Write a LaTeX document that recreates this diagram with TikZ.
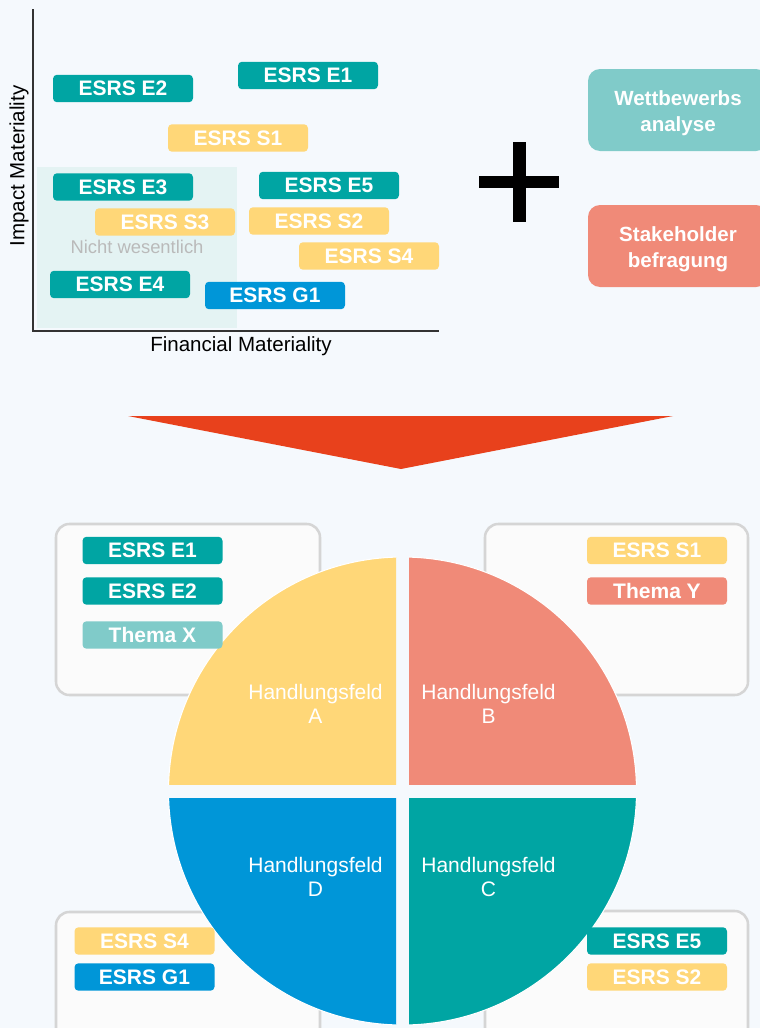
\documentclass[tikz,border=0pt]{standalone}
\usepackage{fontspec}
\setmainfont{Liberation Sans}
\usepackage{tikz}
\usetikzlibrary{calc}
\usepackage{xcolor}
\definecolor{bgblue}{HTML}{F5F9FD}
\definecolor{esrsteal}{HTML}{00A5A3}
\definecolor{esrsyellow}{HTML}{FFD778}
\definecolor{esrsblue}{HTML}{0096D8}
\definecolor{salmon}{HTML}{F08A78}
\definecolor{lightteal}{HTML}{80CBC9}
\definecolor{zonefill}{HTML}{E4F3F3}
\definecolor{panelgray}{HTML}{D5D5D5}
\definecolor{panelfill}{HTML}{FBFBFB}
\definecolor{arrowred}{HTML}{E8411C}

\begin{document}
\begin{tikzpicture}[x=0.75pt, y=-0.75pt,
    tag/.style={rounded corners=3pt, inner sep=0pt, minimum width=105pt,
      minimum height=20.6pt, text=white,
      font=\fontsize{15.75}{18}\selectfont\bfseries},
    bigtag/.style={rounded corners=9pt, inner sep=0pt, minimum width=135pt,
      minimum height=61.5pt, text=white, align=center,
      font=\fontsize{15.4}{19.5}\selectfont\bfseries},
    panel/.style={draw=panelgray, line width=1.9pt, fill=panelfill, rounded corners=10pt},
    field/.style={text=white, align=center, font=\fontsize{15.75}{18}\selectfont},
    axislabel/.style={font=\fontsize{15.4}{18}\selectfont}]
        % Define the page and the background
        \useasboundingbox (0,0) rectangle (760,1028);
        \fill[bgblue] (0,0) rectangle (760,1028);

        % Matrix: shaded zone and axes
        \coordinate (O) at (33,331);
        \coordinate (ytop) at (33,9);
        \coordinate (xend) at (439,331);
        \fill[zonefill] (37,167) rectangle (237,328);
        \node[text=black!27, font=\fontsize{13.8}{16}\selectfont] (nw) at (137,247) {Nicht wesentlich};
        \draw[line width=1.5pt, black!80] (ytop) -- (O) -- (xend);
        \node[axislabel, rotate=90] (ylab) at (19,166) {Impact Materiality};
        \node[axislabel] (xlab) at (241,346) {Financial Materiality};

        % Topics in the matrix
        \node[tag, fill=esrsteal] (mE2) at (123,88.5) {ESRS E2};
        \node[tag, fill=esrsteal] (mE1) at (308,75.5) {ESRS E1};
        \node[tag, fill=esrsyellow] (mS1) at (238,138) {ESRS S1};
        \node[tag, fill=esrsteal] (mE3) at (123,187) {ESRS E3};
        \node[tag, fill=esrsyellow] (mS3) at (165,222) {ESRS S3};
        \node[tag, fill=esrsteal] (mE5) at (329,185.5) {ESRS E5};
        \node[tag, fill=esrsyellow] (mS2) at (319,221) {ESRS S2};
        \node[tag, fill=esrsyellow] (mS4) at (369,256) {ESRS S4};
        \node[tag, fill=esrsteal] (mE4) at (120,284.5) {ESRS E4};
        \node[tag, fill=esrsblue] (mG1) at (275,295.5) {ESRS G1};

        % Plus and the extra inputs
        \fill[black] (513,142) rectangle (526,222);
        \fill[black] (479,176) rectangle (559,188);
        \node[bigtag, fill=lightteal] (wett) at (678,110) {};
        \node[bigtag] (wetttxt) at (678,113) {Wettbewerbs\\analyse};
        \node[bigtag, fill=salmon] (stake) at (678,246) {};
        \node[bigtag] (staketxt) at (678,249) {Stakeholder\\befragung};

        % Big arrow down
        \fill[arrowred] (128,416) -- (673,416) -- (401,469) -- cycle;

        % Panels behind the circle
        \draw[panel] (56,524) rectangle (320,695);
        \draw[panel] (485,524) rectangle (748,695);
        \draw[panel] (56,912) rectangle (320,1060);
        \draw[panel] (485,911) rectangle (748,1060);

        % Circle in four fields
        \coordinate (M) at (402.5,791);
        \begin{scope}
            \clip (150,540) rectangle (396,784);
            \fill[esrsyellow, draw=white, line width=0.8pt] (M) circle[radius=234];
        \end{scope}
        \begin{scope}
            \clip (409,540) rectangle (660,784);
            \fill[salmon, draw=white, line width=0.8pt] (M) circle[radius=234];
        \end{scope}
        \begin{scope}
            \clip (150,798) rectangle (396,1040);
            \fill[esrsblue, draw=white, line width=0.8pt] (M) circle[radius=234];
        \end{scope}
        \begin{scope}
            \clip (409,798) rectangle (660,1040);
            \fill[esrsteal, draw=white, line width=0.8pt] (M) circle[radius=234];
        \end{scope}
        \node[field] (hfA) at (315.5,704) {Handlungsfeld\\A};
        \node[field] (hfB) at (488.5,704) {Handlungsfeld\\B};
        \node[field] (hfD) at (315.5,877) {Handlungsfeld\\D};
        \node[field] (hfC) at (488.5,877) {Handlungsfeld\\C};

        % Topics per field
        \node[tag, fill=esrsteal] (aE1) at (152.5,550.5) {ESRS E1};
        \node[tag, fill=esrsteal] (aE2) at (152.5,591) {ESRS E2};
        \node[tag, fill=lightteal] (aX) at (152.5,635) {Thema X};
        \node[tag, fill=esrsyellow] (bS1) at (657,550.5) {ESRS S1};
        \node[tag, fill=salmon] (bY) at (657,591) {Thema Y};
        \node[tag, fill=esrsyellow] (dS4) at (144.5,941) {ESRS S4};
        \node[tag, fill=esrsblue] (dG1) at (144.5,977) {ESRS G1};
        \node[tag, fill=esrsteal] (cE5) at (657,941) {ESRS E5};
        \node[tag, fill=esrsyellow] (cS2) at (657,977) {ESRS S2};
    \end{tikzpicture}
\end{document}
